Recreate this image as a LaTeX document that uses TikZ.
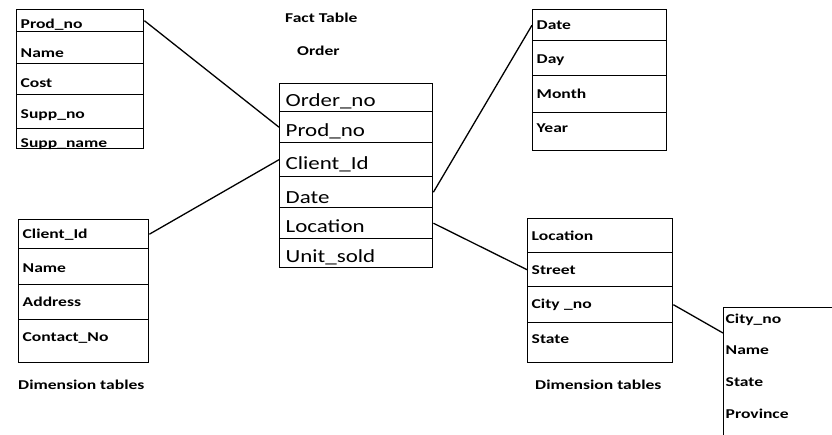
\documentclass[tikz,border=0pt]{standalone}
\usepackage{fontspec}
\setmainfont{Carlito}[FakeStretch=1.24, BoldFeatures={FakeStretch=1.3}]
\usetikzlibrary{calc}
\tikzset{
  field/.style={draw, line width=1.4pt, anchor=north west, inner xsep=4pt, inner ysep=0pt, align=left, font=\bfseries\fontsize{13.5}{15}\selectfont},
  prodrow/.style={field, text width=119pt},
  clientrow/.style={field, text width=122pt},
  daterow/.style={field, text width=126pt},
  locrow/.style={field, text width=137pt},
  factrow/.style={field, inner xsep=6pt, text width=141pt, font=\fontsize{18.5}{22}\selectfont},
  cityrow/.style={field, draw=none, inner xsep=2pt, text width=140pt},
  title/.style={anchor=base west, inner sep=0pt, font=\bfseries\fontsize{13.5}{15}\selectfont},
  link/.style={line width=1.3pt}
}
% style, name, top left, height, baseline offset, text
\newcommand{\field}[6]{\node[#1, text height=#5pt, text depth=#4pt-#5pt] (#2) at (#3) {#6};}

\begin{document}
\begin{tikzpicture}[x=1pt,y=-1pt]
        \useasboundingbox (0,0) rectangle (832,434);
        % titles
        \node[title] (facttitle) at (285,22) {Fact Table};
        \node[title] (ordertitle) at (297,55) {Order};
        \node[title] (dimleft) at (18,389) {Dimension tables};
        \node[title] (dimright) at (535,389) {Dimension tables};
        % product table
        \field{prodrow}{pprodno}{16,9}{22}{19}{Prod\_no}
        \field{prodrow}{pname}{16,31}{32}{26}{Name}
        \field{prodrow}{pcost}{16,63}{31}{24}{Cost}
        \field{prodrow}{psuppno}{16,94}{34}{24}{Supp\_no}
        \field{prodrow}{psuppname}{16,128}{20}{19}{Supp\_name}
        % fact table
        \field{factrow}{forderno}{279,83}{28}{23}{Order\_no}
        \field{factrow}{fprodno}{279,111}{31}{25}{Prod\_no}
        \field{factrow}{fclientid}{279,142}{34}{27}{Client\_Id}
        \field{factrow}{fdate}{279,176}{31}{27}{Date}
        \field{factrow}{floc}{279,207}{31}{25}{Location}
        \field{factrow}{funitsold}{279,238}{29}{24}{Unit\_sold}
        % date table
        \field{daterow}{ddate}{532,9}{31}{20}{Date}
        \field{daterow}{dday}{532,40}{35}{23}{Day}
        \field{daterow}{dmonth}{532,75}{37}{23}{Month}
        \field{daterow}{dyear}{532,112}{38}{20}{Year}
        % client table
        \field{clientrow}{cclientid}{18,219}{29}{19}{Client\_Id}
        \field{clientrow}{cname}{18,248}{36}{24}{Name}
        \field{clientrow}{caddress}{18,284}{35}{22}{Address}
        \field{clientrow}{ccontact}{18,319}{43}{22}{Contact\_No}
        % location table
        \field{locrow}{lloc}{527,218}{34}{22}{Location}
        \field{locrow}{lstreet}{527,252}{34}{22}{Street}
        \field{locrow}{lcityno}{527,286}{36}{22}{City \_no}
        \field{locrow}{lstate}{527,322}{40}{21}{State}
        % city table
        \node[draw, line width=1.4pt, anchor=north west, minimum width=150pt, minimum height=160pt] (citytab) at (723,307) {};
        \field{cityrow}{ycityno}{723,307}{32}{16}{City\_no}
        \field{cityrow}{yname}{723,339}{32}{15}{Name}
        \field{cityrow}{ystate}{723,371}{32}{15}{State}
        \field{cityrow}{yprovince}{723,403}{32}{15}{Province}
        \coordinate (cityin) at ($(citytab.north west)+(0,26)$);
        % links
        \draw[link] (pprodno.east) -- (fprodno.west);
        \draw[link] (cclientid.east) -- (fclientid.west);
        \draw[link] (fdate.east) -- (ddate.west);
        \draw[link] (floc.east) -- (lstreet.west);
        \draw[link] (lcityno.east) -- (cityin);
\end{tikzpicture}
\end{document}
